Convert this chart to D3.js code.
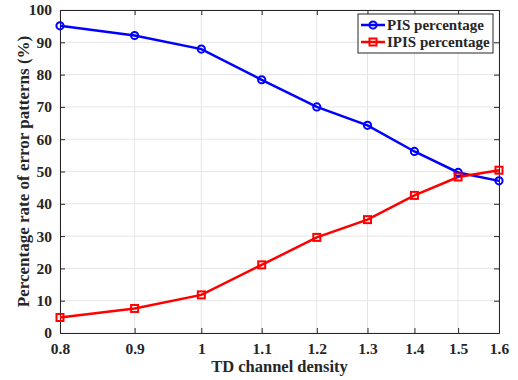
<!DOCTYPE html>
<html>
<head>
<meta charset="utf-8">
<script src="https://cdn.jsdelivr.net/npm/d3@7"></script>
<style>
  body { margin: 0; background: #fff; }
  text { font-family: "Liberation Serif", "Times New Roman", serif; font-weight: bold; fill: #262626; }
</style>
</head>
<body>
<div id="chart"></div>
<script>
// data
var density = [0.8, 0.9, 1.0, 1.1, 1.2, 1.3, 1.4, 1.5, 1.6];
var pis = [95.1, 92.1, 87.9, 78.4, 70.0, 64.3, 56.2, 49.7, 47.1];
var ipis = [4.8, 7.6, 11.8, 21.1, 29.6, 35.1, 42.6, 48.3, 50.4];
var xTicks = [0.8, 0.9, 1.0, 1.1, 1.2, 1.3, 1.4, 1.5, 1.6];
var yTicks = [0, 10, 20, 30, 40, 50, 60, 70, 80, 90, 100];

var width = 518, height = 380,
    margin = {top: 10, right: 19, bottom: 47, left: 60};
var w = width - margin.left - margin.right,
    h = height - margin.top - margin.bottom;

var svg = d3.select('#chart').append('svg')
    .attr('width', width)
    .attr('height', height);
var g = svg.append('g')
    .attr('transform', 'translate(' + margin.left + ',' + margin.top + ')');

var x = d3.scaleLog().domain([0.8, 1.6]).range([0, w]);
var y = d3.scaleLinear().domain([0, 100]).range([h, 0]);

// grid
g.selectAll('.gx').data(xTicks).enter().append('line')
    .attr('x1', d => x(d)).attr('x2', d => x(d))
    .attr('y1', 0).attr('y2', h)
    .attr('stroke', '#e6e6e6').attr('stroke-width', 1);
g.selectAll('.gy').data(yTicks).enter().append('line')
    .attr('x1', 0).attr('x2', w)
    .attr('y1', d => y(d)).attr('y2', d => y(d))
    .attr('stroke', '#e6e6e6').attr('stroke-width', 1);

// axes (ticks inside, matlab style)
var fmt = d => d3.format('')(+d.toFixed(1));
var xAxis = g.append('g').attr('transform', 'translate(0,' + h + ')')
    .call(d3.axisBottom(x).tickValues(xTicks).tickFormat(fmt).tickSizeInner(-5).tickSizeOuter(0).tickPadding(10));
var xTop = g.append('g')
    .call(d3.axisTop(x).tickValues(xTicks).tickFormat('').tickSizeInner(-5).tickSizeOuter(0));
var yAxis = g.append('g')
    .call(d3.axisLeft(y).tickValues(yTicks).tickSizeInner(-5).tickSizeOuter(0).tickPadding(8));
var yRight = g.append('g').attr('transform', 'translate(' + w + ',0)')
    .call(d3.axisRight(y).tickValues(yTicks).tickFormat('').tickSizeInner(-5).tickSizeOuter(0));

[xAxis, xTop, yAxis, yRight].forEach(function(a) {
  a.select('.domain').attr('stroke', '#262626');
  a.selectAll('.tick line').attr('stroke', '#262626');
  a.selectAll('.tick text').style('font-size', '15.5px').attr('fill', '#262626');
});

var line = d3.line().x((d, i) => x(density[i])).y(d => y(d));

g.append('path').datum(pis)
    .attr('d', line).attr('fill', 'none')
    .attr('stroke', '#0000ff').attr('stroke-width', 2.5);
g.append('path').datum(ipis)
    .attr('d', line).attr('fill', 'none')
    .attr('stroke', '#ff0000').attr('stroke-width', 2.5);

g.selectAll('.mc').data(pis).enter().append('circle')
    .attr('cx', (d, i) => x(density[i])).attr('cy', d => y(d))
    .attr('r', 3.6).attr('fill', 'none')
    .attr('stroke', '#0000ff').attr('stroke-width', 2);
g.selectAll('.ms').data(ipis).enter().append('rect')
    .attr('x', (d, i) => x(density[i]) - 3.5).attr('y', d => y(d) - 3.5)
    .attr('width', 7).attr('height', 7).attr('fill', 'none')
    .attr('stroke', '#ff0000').attr('stroke-width', 2);

// labels
svg.append('text')
    .attr('x', margin.left + w / 2).attr('y', 372)
    .attr('text-anchor', 'middle')
    .style('font-size', '16.5px')
    .text('TD channel density');
svg.append('text')
    .attr('transform', 'translate(29,' + (margin.top + h / 2) + ') rotate(-90)')
    .attr('text-anchor', 'middle')
    .style('font-size', '17px')
    .text('Percentage rate of error patterns (%)');

// legend
var leg = svg.append('g').attr('transform', 'translate(358,14)');
leg.append('rect').attr('width', 135).attr('height', 39)
    .attr('fill', '#fff').attr('stroke', '#262626').attr('stroke-width', 1);
var items = [
  {name: 'PIS percentage', color: '#0000ff', shape: 'circle'},
  {name: 'IPIS percentage', color: '#ff0000', shape: 'rect'}
];
items.forEach(function(it, i) {
  var yy = 11 + i * 17;
  leg.append('line').attr('x1', 3).attr('x2', 27).attr('y1', yy).attr('y2', yy)
      .attr('stroke', it.color).attr('stroke-width', 2.5);
  if (it.shape == 'circle') {
    leg.append('circle').attr('cx', 15).attr('cy', yy).attr('r', 3.6)
        .attr('fill', 'none').attr('stroke', it.color).attr('stroke-width', 2);
  } else {
    leg.append('rect').attr('x', 11.5).attr('y', yy - 3.5).attr('width', 7).attr('height', 7)
        .attr('fill', 'none').attr('stroke', it.color).attr('stroke-width', 2);
  }
  leg.append('text').attr('x', 29).attr('y', yy + 5)
      .style('font-size', '15px')
      .text(it.name);
});
</script>
</body>
</html>
